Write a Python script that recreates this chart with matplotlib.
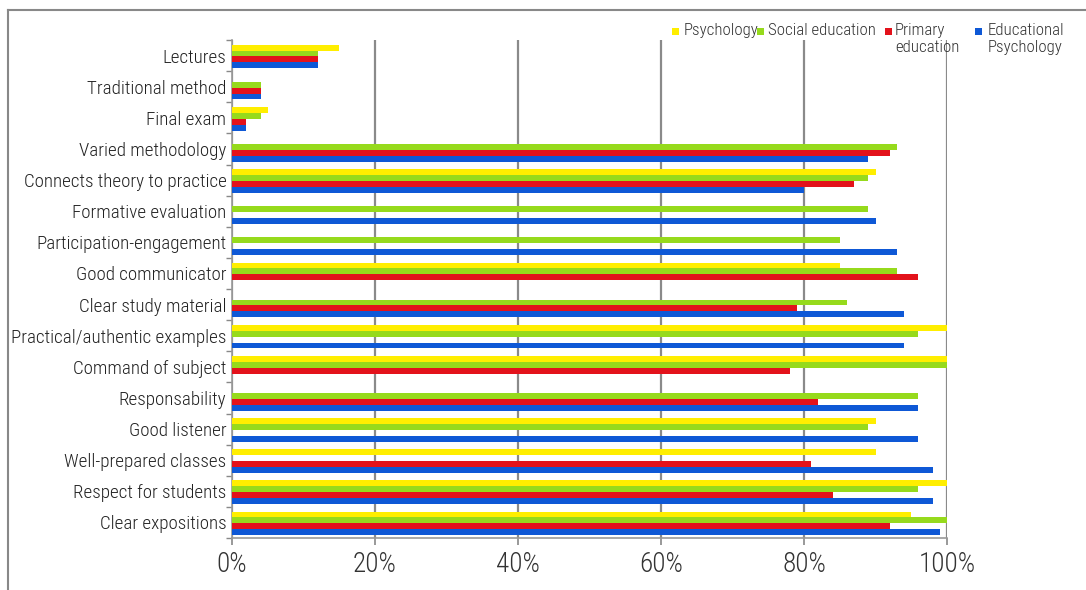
import matplotlib
matplotlib.use("Agg")
import matplotlib.pyplot as plt
import numpy as np
from matplotlib.lines import Line2D
from matplotlib.patches import Rectangle

plt.rcParams['font.family'] = ['Roboto Condensed', 'Liberation Sans Narrow', 'Roboto', 'DejaVu Sans']

categories = ["Lectures", "Traditional method", "Final exam", "Varied methodology",
              "Connects theory to practice", "Formative evaluation",
              "Participation-engagement", "Good communicator", "Clear study material",
              "Practical/authentic examples", "Command of subject", "Responsability",
              "Good listener", "Well-prepared classes", "Respect for students",
              "Clear expositions"]
psychology = [15, 0, 5, 0, 90, 0, 0, 85, 0, 100, 100, 0, 90, 90, 100, 95]
social_education = [12, 4, 4, 93, 89, 89, 85, 93, 86, 96, 100, 96, 89, 0, 96, 100]
primary_education = [12, 4, 2, 92, 87, 0, 0, 96, 79, 0, 78, 82, 0, 81, 84, 92]
educational_psychology = [12, 4, 2, 89, 80, 90, 93, 0, 94, 94, 0, 96, 96, 98, 98, 99]
series_labels = ["Psychology", "Social education", "Primary\neducation", "Educational\nPsychology"]
xticks = [0, 20, 40, 60, 80, 100]
xtick_labels = ["0%", "20%", "40%", "60%", "80%", "100%"]

colors = ["#FFEE00", "#96DA1C", "#E3121B", "#0E58D6"]
series = [psychology, social_education, primary_education, educational_psychology]

fig = plt.figure(figsize=(10.86, 5.90), dpi=100)
ax = fig.add_axes([232/1086, 1-538/590, (947-232)/1086, (538-40)/590])

y = np.arange(len(categories))
h = 0.19
offsets = [-1.5*h, -0.5*h, 0.5*h, 1.5*h]
for vals, col, off, lab in zip(series, colors, offsets, series_labels):
    ax.barh(y + off + 0.03, vals, height=h, color=col, linewidth=0, label=lab, zorder=3)

ax.set_xlim(0, 100)
ax.set_ylim(len(categories) - 0.5, -0.5)
ax.set_xticks(xticks)
ax.set_xticklabels(xtick_labels, fontsize=19.5, color="#333333", fontweight='light')
ax.set_yticks(y)
ax.set_yticklabels(categories, fontsize=13.7, color="#222222", fontweight='light')
ax.set_yticks(np.arange(-0.5, len(categories)), minor=True)
ax.tick_params(axis='y', which='major', length=0, pad=4)
ax.tick_params(axis='y', which='minor', length=4, color="#888888", width=1)
ax.tick_params(axis='x', length=5, color="#888888", width=1.2, pad=4)
ax.xaxis.grid(True, color="#8a8a8a", linewidth=1.6, zorder=0)
ax.set_axisbelow(True)
for s in ['top', 'right']:
    ax.spines[s].set_visible(False)
for s in ['left', 'bottom']:
    ax.spines[s].set_color("#999999")
    ax.spines[s].set_linewidth(1.2)

# legend drawn manually: marker square + top-aligned text
leg_marker_x = [672, 757, 885, 975]
leg_text_x = [684, 768, 895, 988]
for mx, tx, col, lab in zip(leg_marker_x, leg_text_x, colors, series_labels):
    fig.add_artist(Rectangle((mx/1086, 1-35/590), 7/1086, 7/590,
                             transform=fig.transFigure, color=col, linewidth=0))
    fig.text(tx/1086, 1-23/590, lab, ha='left', va='top', fontsize=12.2,
             color="#333333", fontweight='light', linespacing=1.15)

fig.add_artist(Line2D([8/1086, 1], [1-10/590, 1-10/590], transform=fig.transFigure,
                      color="#888888", linewidth=1.5))
fig.add_artist(Line2D([8/1086, 8/1086], [0, 1-10/590], transform=fig.transFigure,
                      color="#888888", linewidth=1.5))

fig.savefig("out.png", dpi=100)
